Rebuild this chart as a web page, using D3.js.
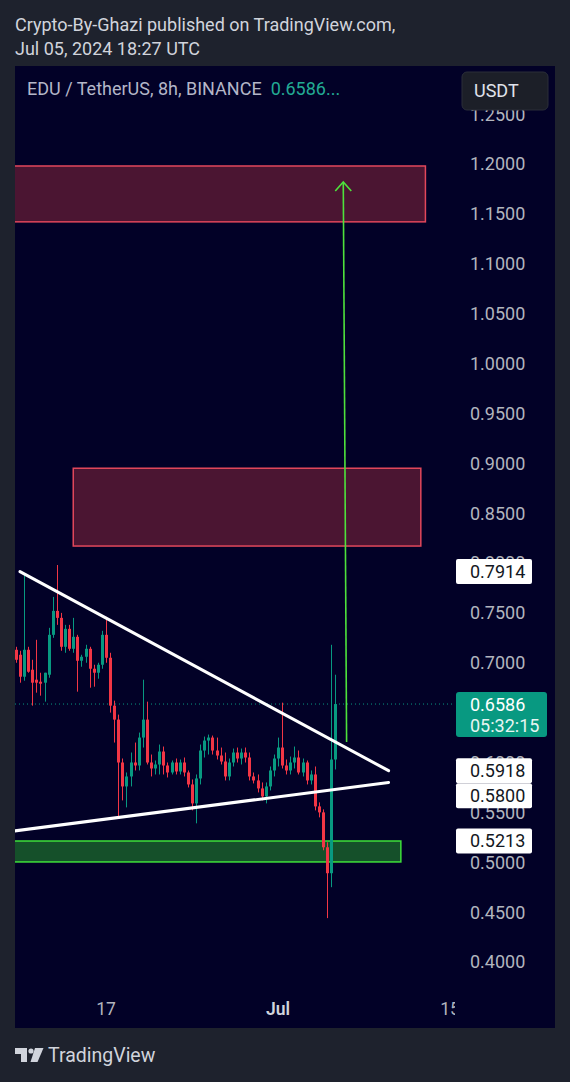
<!DOCTYPE html>
<html><head><meta charset="utf-8">
<script src="https://cdn.jsdelivr.net/npm/d3@7"></script>
<style>
html,body{margin:0;padding:0;background:#1e222d;}
svg{display:block;font-family:Roboto,"Noto Sans",sans-serif;}
</style></head><body>
<svg id="c" width="570" height="1082"></svg>
<script>
// ---------- data ----------
const firstCandle = "2024-06-09T16:00:00Z";
const candleHours = 8;
const opens  = [.713,.708,.686,.713,.693,.683,.681,.680,.688,.728,.752,.745,.716,.734,.714,.726,.702,.706,.714,.694,
                .690,.698,.728,.705,.657,.643,.600,.576,.586,.600,.597,.625,.643,.600,.594,.598,.611,.597,.590,.600,
                .591,.600,.590,.578,.559,.584,.612,.622,.625,.612,.607,.601,.586,.600,.610,.604,.610,.605,.586,.582,
                .574,.566,.576,.592,.604,.615,.597,.592,.600,.605,.590,.600,.582,.588,.556,.550,.515,.489,.603];
const highs  = [.716,.712,.788,.716,.703,.723,.690,.690,.735,.766,.798,.750,.738,.738,.745,.728,.708,.718,.716,.698,
                .700,.732,.746,.710,.662,.648,.604,.590,.610,.620,.630,.683,.661,.608,.602,.618,.616,.600,.602,.604,
                .603,.605,.592,.583,.588,.618,.626,.628,.627,.625,.615,.610,.604,.614,.615,.614,.615,.610,.590,.588,
                .580,.580,.596,.608,.625,.660,.603,.606,.616,.612,.604,.602,.592,.596,.560,.553,.520,.718,.688];
const lows   = [.700,.680,.682,.690,.657,.670,.667,.661,.685,.725,.738,.712,.710,.712,.710,.671,.696,.700,.675,.676,
                .684,.694,.700,.650,.620,.544,.562,.555,.576,.592,.592,.615,.598,.586,.588,.588,.588,.585,.588,.588,
                .588,.586,.575,.552,.539,.578,.605,.608,.608,.603,.598,.582,.582,.596,.600,.598,.600,.582,.579,.570,
                .562,.559,.572,.586,.596,.594,.588,.588,.594,.588,.586,.578,.578,.552,.545,.512,.444,.475,.593];
const closes = [.703,.686,.713,.691,.680,.680,.679,.690,.728,.752,.745,.716,.734,.714,.726,.702,.706,.714,.694,.690,
                .698,.728,.705,.657,.643,.600,.576,.586,.600,.597,.625,.643,.600,.594,.598,.611,.597,.590,.600,.591,
                .600,.590,.578,.559,.584,.612,.622,.625,.612,.607,.601,.586,.600,.610,.604,.610,.605,.586,.582,.574,
                .566,.576,.592,.604,.615,.597,.592,.600,.605,.590,.600,.582,.588,.556,.550,.515,.489,.603,.6586];

const priceTicks = [0.40,0.45,0.50,0.55,0.60,0.65,0.70,0.75,0.80,0.85,0.90,0.95,1.00,1.05,1.10,1.15,1.20,1.25];
const timeTicks = ["2024-06-17T00:00:00Z","2024-07-01T00:00:00Z","2024-07-15T00:00:00Z"];
const timeTickLabels = ["17","Jul","15"];
const timeTickBold = [false,true,false];

// drawings: [startTime, endTime, topPrice, bottomPrice]
const redZones = [["2024-06-05T00:00:00Z","2024-07-13T00:00:00Z",1.198,1.142],
                  ["2024-06-14T08:00:00Z","2024-07-12T15:00:00Z",0.895,0.817]];
const greenZone = ["2024-06-05T00:00:00Z","2024-07-11T00:00:00Z",0.5213,0.5003];
// trend lines: [t1, p1, t2, p2]
const trendLines = [["2024-06-10T00:00:00Z",0.7914,"2024-07-10T00:00:00Z",0.5918],
                    ["2024-06-09T12:00:00Z",0.5313,"2024-07-10T00:00:00Z",0.5800]];
const arrowLine = ["2024-07-06T14:00:00Z",0.6205,"2024-07-06T07:30:00Z",1.182];
const lineLabels = [0.7914,0.5918,0.5800,0.5213];
const lastPrice = 0.6586;
const countdown = "05:32:15";

// ---------- layout ----------
const svg = d3.select("#c");
const panel = {x0:15, x1:555, y0:66, y1:1028};
const plotRight = 455;
const up = "#089981", down = "#f23645";

const x = d3.scaleUtc()
  .domain([new Date("2024-06-17T00:00:00Z"), new Date("2024-07-01T00:00:00Z")])
  .range([106, 278]);
const y = d3.scaleLinear().domain([0.4, 1.2]).range([962, 164]);

// header
svg.append("text").attr("x",15).attr("y",31).attr("font-size",18).attr("fill","#d1d4dc")
  .text("Crypto-By-Ghazi published on TradingView.com,");
svg.append("text").attr("x",15).attr("y",55).attr("font-size",18).attr("fill","#d1d4dc")
  .text("Jul 05, 2024 18:27 UTC");

// panel
svg.append("rect").attr("x",panel.x0).attr("y",panel.y0)
  .attr("width",panel.x1-panel.x0).attr("height",panel.y1-panel.y0).attr("fill","#020127");

const defs = svg.append("defs");
defs.append("clipPath").attr("id","plot").append("rect")
  .attr("x",panel.x0).attr("y",panel.y0).attr("width",plotRight-panel.x0).attr("height",panel.y1-panel.y0);
defs.append("clipPath").attr("id","taxis").append("rect")
  .attr("x",panel.x0).attr("y",990).attr("width",plotRight-panel.x0).attr("height",38);

const plot = svg.append("g").attr("clip-path","url(#plot)");

// zones
redZones.forEach(z=>{
  plot.append("rect")
    .attr("x",x(new Date(z[0]))).attr("y",y(z[2]))
    .attr("width",x(new Date(z[1]))-x(new Date(z[0]))).attr("height",y(z[3])-y(z[2]))
    .attr("fill","#4b1532").attr("stroke","#e2475c").attr("stroke-width",1.5);
});
plot.append("rect")
  .attr("x",x(new Date(greenZone[0]))).attr("y",y(greenZone[2]))
  .attr("width",x(new Date(greenZone[1]))-x(new Date(greenZone[0]))).attr("height",y(greenZone[3])-y(greenZone[2]))
  .attr("fill","#15502a").attr("stroke","#3ee03a").attr("stroke-width",1.5);

// last price dotted line
plot.append("line").attr("x1",panel.x0).attr("x2",plotRight)
  .attr("y1",y(lastPrice)).attr("y2",y(lastPrice))
  .attr("stroke",up).attr("stroke-width",1).attr("stroke-dasharray","1,3");

// candles
const t0 = new Date(firstCandle).getTime();
const candles = opens.map((o,i)=>({t:new Date(t0 + i*candleHours*3600e3), o, h:highs[i], l:lows[i], c:closes[i]}));
const cg = plot.append("g");
candles.forEach(d=>{
  const cx = Math.round(x(d.t));
  const col = d.c >= d.o ? up : down;
  cg.append("line").attr("x1",cx+0.5).attr("x2",cx+0.5).attr("y1",y(d.h)).attr("y2",y(d.l))
    .attr("stroke",col).attr("stroke-width",1);
  const top = y(Math.max(d.o,d.c)), bot = y(Math.min(d.o,d.c));
  cg.append("rect").attr("x",cx-1).attr("width",3).attr("y",top).attr("height",Math.max(1,bot-top)).attr("fill",col);
});

// trend lines
trendLines.forEach(l=>{
  plot.append("line")
    .attr("x1",x(new Date(l[0]))).attr("y1",y(l[1]))
    .attr("x2",x(new Date(l[2]))).attr("y2",y(l[3]))
    .attr("stroke","#ffffff").attr("stroke-width",3).attr("stroke-linecap","round");
});

// arrow
const ax1 = x(new Date(arrowLine[0])), ay1 = y(arrowLine[1]);
const ax2 = x(new Date(arrowLine[2])), ay2 = y(arrowLine[3]);
plot.append("line").attr("x1",ax1).attr("y1",ay1).attr("x2",ax2).attr("y2",ay2)
  .attr("stroke","#4ee23c").attr("stroke-width",1.6);
plot.append("path")
  .attr("d",`M${ax2-8},${ay2+9} L${ax2},${ay2} L${ax2+8},${ay2+9}`)
  .attr("fill","none").attr("stroke","#4ee23c").attr("stroke-width",1.6);

// legend
const leg = svg.append("text").attr("x",27).attr("y",95).attr("font-size",18);
leg.append("tspan").attr("fill","#b4b6c8").text("EDU / TetherUS, 8h, BINANCE");
leg.append("tspan").attr("fill","#22ab94").attr("dx",9).text(lastPrice.toFixed(4)+"...");

// price axis ticks (skip the one fully hidden by the last-price label)
const ly = y(lastPrice);
const visTicks = priceTicks.filter(d=>!(y(d) > ly-6 && y(d) < ly+27));
svg.append("g").selectAll("text").data(visTicks).join("text")
  .attr("x",470).attr("y",d=>y(d)).attr("dy","0.36em")
  .attr("font-size",18).attr("fill","#b2b5be").text(d=>d.toFixed(4));

// USDT button
svg.append("rect").attr("x",462).attr("y",72).attr("width",86).attr("height",38).attr("rx",5)
  .attr("fill","#1c1f28").attr("stroke","#2a2e39");
svg.append("text").attr("x",474).attr("y",91).attr("dy","0.36em").attr("font-size",18)
  .attr("fill","#e0e3eb").text("USDT");

// white line labels (stacked to avoid overlap)
const lh = 25;
const labs = lineLabels.map(v=>({v, cy:y(v)})).sort((a,b)=>a.cy-b.cy);
for (let i=1;i<labs.length;i++) if (labs[i].cy < labs[i-1].cy + lh) labs[i].cy = labs[i-1].cy + lh;
const lg = svg.append("g");
labs.forEach(d=>{
  lg.append("rect").attr("x",456).attr("y",d.cy-lh/2).attr("width",76).attr("height",lh).attr("rx",2).attr("fill","#ffffff");
  lg.append("text").attr("x",470).attr("y",d.cy).attr("dy","0.36em").attr("font-size",18).attr("fill","#131722")
    .text(d.v.toFixed(4));
});

// last price label
svg.append("rect").attr("x",456).attr("y",ly-12).attr("width",91).attr("height",45).attr("rx",3).attr("fill",up);
svg.append("text").attr("x",470).attr("y",ly).attr("dy","0.36em").attr("font-size",18).attr("fill","#ffffff")
  .text(lastPrice.toFixed(4));
svg.append("text").attr("x",470).attr("y",ly+21).attr("dy","0.36em").attr("font-size",18).attr("fill","#e8f5f2")
  .text(countdown);

// time axis
svg.append("g").attr("clip-path","url(#taxis)").selectAll("text").data(timeTicks).join("text")
  .attr("x",d=>x(new Date(d))).attr("y",1009).attr("dy","0.36em").attr("text-anchor","middle")
  .attr("font-size",17.5)
  .attr("font-weight",(d,i)=>timeTickBold[i]?600:400)
  .attr("fill",(d,i)=>timeTickBold[i]?"#d1d4dc":"#b2b5be")
  .text((d,i)=>timeTickLabels[i]);

// footer logo
const logo = svg.append("g").attr("fill","#d1d4dc");
logo.append("path").attr("d","M15,1048 H27 V1062 H21 V1054 H15 Z");
logo.append("circle").attr("cx",31).attr("cy",1051).attr("r",2.6);
logo.append("path").attr("d","M35,1048 H43.5 L37.5,1062 H30.5 Z");
svg.append("text").attr("x",48).attr("y",1062).attr("font-size",19.5).attr("fill","#d1d4dc").text("TradingView");
</script>
</body></html>
